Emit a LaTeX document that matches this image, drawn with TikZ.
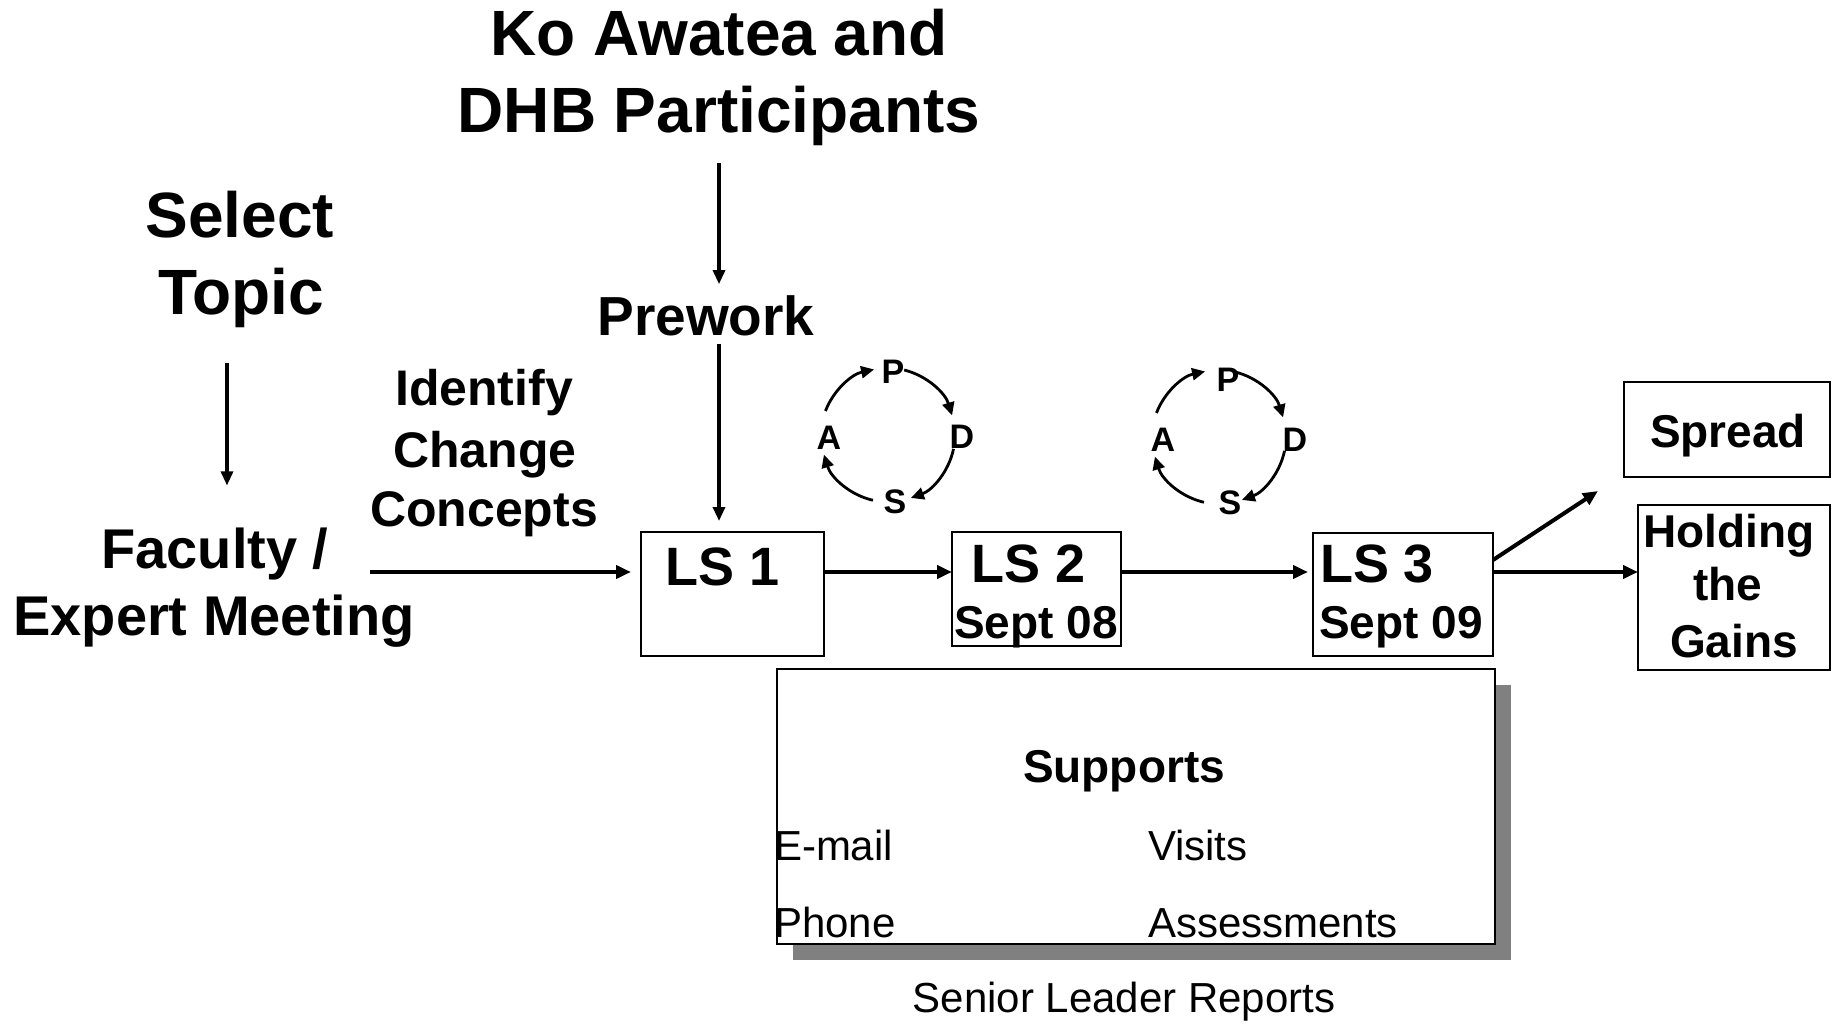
\documentclass[tikz,border=0pt]{standalone}
\usepackage{fontspec}
\setmainfont{Liberation Sans}
\usetikzlibrary{arrows.meta}
\begin{document}
\begin{tikzpicture}[x=1pt,y=-1pt,
  every node/.style={inner sep=0pt, outer sep=0pt},
  bigb/.style={font=\fontsize{64}{77}\selectfont\bfseries},
  preb/.style={font=\fontsize{55}{66}\selectfont\bfseries},
  idb/.style={font=\fontsize{50}{60}\selectfont\bfseries},
  facb/.style={font=\fontsize{56}{67}\selectfont\bfseries},
  lsb/.style={font=\fontsize{54}{64}\selectfont\bfseries},
  midb/.style={font=\fontsize{46}{55}\selectfont\bfseries},
  reg/.style={font=\fontsize{42}{50}\selectfont},
  pd/.style={font=\fontsize{34}{40}\selectfont\bfseries},
  box/.style={draw, line width=2.5pt},
  arr/.style={line width=4pt, -{Triangle[length=15pt,width=13pt]}},
  varr/.style={line width=3.2pt, -{Triangle[length=14pt,width=12pt]}},
  cyc/.style={line width=2.8pt, -{Triangle[length=13pt,width=12pt]}}
]
\useasboundingbox (0,0) rectangle (1832,1024);

% top titles
\node[bigb, anchor=base] (title1) at (719,56) {Ko Awatea and};
\node[bigb, anchor=base] (title2) at (719,133) {DHB Participants};
\node[bigb, anchor=base] (select) at (240,238) {Select};
\node[bigb, anchor=base] (topic) at (241,315) {Topic};
\node[preb, anchor=base] (prework) at (706,336) {Prework};
\node[idb, anchor=base] (identify) at (484,405) {Identify};
\node[idb, anchor=base] (change) at (485,467) {Change};
\node[idb, anchor=base] (concepts) at (484,526) {Concepts};
\node[facb, anchor=base] (faculty) at (215,568) {Faculty /};
\node[facb, anchor=base] (expert) at (214,635) {Expert Meeting};

% boxes
\node[box, minimum width=183pt, minimum height=124pt] (ls1) at (732.5,594) {};
\node[box, minimum width=169pt, minimum height=114pt] (ls2) at (1036.5,589) {};
\node[box, minimum width=180pt, minimum height=123pt] (ls3) at (1403,594.5) {};
\node[box, minimum width=206pt, minimum height=95pt] (spread) at (1727,429.5) {};
\node[box, minimum width=192pt, minimum height=165pt] (hold) at (1734,587.5) {};

\node[lsb, anchor=base] (ls1t) at (723,585) {LS 1};
\node[lsb, anchor=base] (ls2t) at (1029,582) {LS 2};
\node[midb, anchor=base] (ls2d) at (1036,638) {Sept 08};
\node[lsb, anchor=base west] (ls3t) at (1320,582) {LS 3};
\node[midb, anchor=base west] (ls3d) at (1319,638) {Sept 09};
\node[midb, anchor=base] (spreadt) at (1728,447) {Spread};
\node[midb, anchor=base] (hold1) at (1729,547) {Holding};
\node[midb, anchor=base] (hold2) at (1728,600) {the};
\node[midb, anchor=base] (hold3) at (1734,657) {Gains};

% supports box with shadow
\node[fill={rgb,255:red,128;green,128;blue,128}, minimum width=718pt, minimum height=275pt] (shadow) at (1152,822.5) {};
\node[box, fill=white, minimum width=718pt, minimum height=275pt] (supbox) at (1136,806.5) {};
\node[midb, anchor=base] (supt) at (1124,782) {Supports};
\node[reg, anchor=base west] (email) at (774,860) {E-mail};
\node[reg, anchor=base west] (visits) at (1148,860) {Visits};
\node[reg, anchor=base west] (phone) at (774,937) {Phone};
\node[reg, anchor=base west] (assess) at (1148,937) {Assessments};
\node[reg, anchor=base] (senior) at (1124,1012) {Senior Leader Reports};

% vertical arrows
\draw[varr, shorten <=17pt, shorten >=12pt] (title2.south) -- (title2.south |- prework.north);
\draw[varr, shorten <=7pt, shorten >=11pt] (title2.south |- prework.south) -- (title2.south |- ls1.north);
\draw[varr, shorten <=35pt, shorten >=42pt] ([xshift=-14pt]topic.south) -- ([xshift=-14pt]topic.south |- faculty.north);

% horizontal arrows
\coordinate (fstart) at (370,572);
\coordinate (spreadtip) at (1598,491);
\draw[arr, shorten >=10pt] (fstart) -- (fstart -| ls1.west);
\draw[arr] (ls1.east |- fstart) -- (ls2.west |- fstart);
\draw[arr, shorten >=5pt] (ls2.east |- fstart) -- (ls3.west |- fstart);
\draw[arr] (ls3.east |- fstart) -- (hold.west |- fstart);
\draw[arr] ([yshift=34.5pt]ls3.east) -- (spreadtip);

% PDSA cycles
\node[pd] (p1) at (893,372) {P};
\node[pd] (d1) at (962,437) {D};
\node[pd] (s1) at (895,502) {S};
\node[pd] (a1) at (829,438) {A};
\node[pd] (p2) at (1228,380) {P};
\node[pd] (d2) at (1295,440) {D};
\node[pd] (s2) at (1230,503) {S};
\node[pd] (a2) at (1163,440) {A};
\coordinate (c1) at (888,435);
\coordinate (c2) at (1219,437);
\foreach \c in {c1,c2}{
  \draw[cyc] ([shift={(201:67)}]\c) arc[start angle=201, end angle=258, radius=67];
  \draw[cyc] ([shift={(284:67)}]\c) arc[start angle=284, end angle=343, radius=67];
  \draw[cyc] ([shift={(12:67)}]\c) arc[start angle=12, end angle=70, radius=67];
  \draw[cyc] ([shift={(103:67)}]\c) arc[start angle=103, end angle=163, radius=67];
}
\end{tikzpicture}
\end{document}
